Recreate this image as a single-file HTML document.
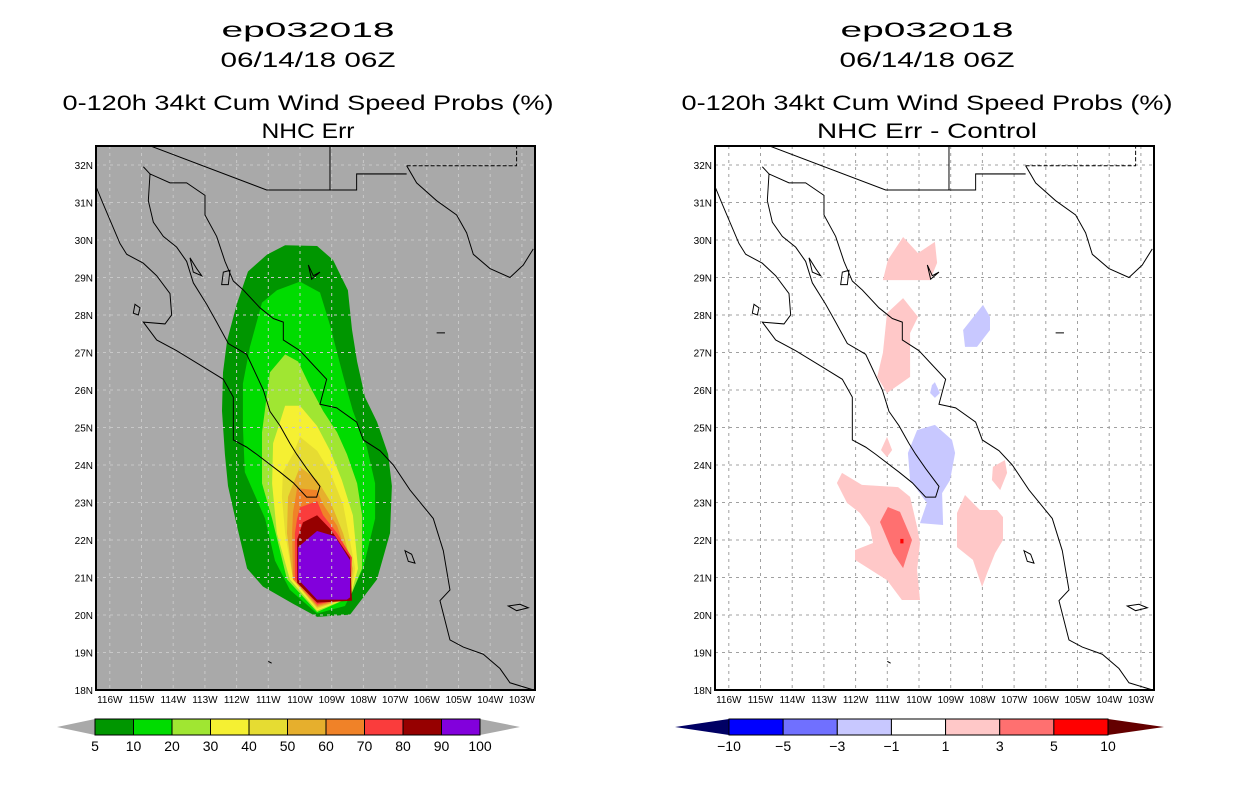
<!DOCTYPE html>
<html><head><meta charset="utf-8">
<style>
html,body{margin:0;padding:0;background:#fff;}
svg{display:block;font-family:"Liberation Sans",sans-serif;}
</style></head>
<body>
<svg id="chart" width="1236" height="800" viewBox="0 0 1236 800" xmlns="http://www.w3.org/2000/svg">
<g font-size="21" text-anchor="middle" fill="#000">
<text x="308" y="37" textLength="173" lengthAdjust="spacingAndGlyphs">ep032018</text>
<text x="308" y="67" textLength="175" lengthAdjust="spacingAndGlyphs">06/14/18 06Z</text>
<text x="308" y="110" textLength="491" lengthAdjust="spacingAndGlyphs">0-120h 34kt Cum Wind Speed Probs (%)</text>
<text x="308" y="138" textLength="93" lengthAdjust="spacingAndGlyphs">NHC Err</text>
</g>
<g font-size="21" text-anchor="middle" fill="#000">
<text x="927" y="37" textLength="173" lengthAdjust="spacingAndGlyphs">ep032018</text>
<text x="927" y="67" textLength="175" lengthAdjust="spacingAndGlyphs">06/14/18 06Z</text>
<text x="927" y="110" textLength="491" lengthAdjust="spacingAndGlyphs">0-120h 34kt Cum Wind Speed Probs (%)</text>
<text x="927" y="138" textLength="220" lengthAdjust="spacingAndGlyphs">NHC Err - Control</text>
</g>
<defs>
<clipPath id="clipL"><rect x="96" y="146" width="439" height="544"/></clipPath>
<clipPath id="clipR"><rect x="715" y="146" width="439" height="544"/></clipPath>
<g id="coast">
<path fill="none" stroke="#000" stroke-width="2.9" d="M185,18 L530,140 L720,140 L720,18 M720,140 L800,140 L800,95 L950,95
M20,135 L40,180 L65,235 L90,290 L110,320 L160,345 L200,380 L240,430 L245,490 L225,515 L160,510 L200,560 L260,590 L330,630 L400,670 L430,720 L430,800 L430,840 L470,860 L500,880 L570,930 L610,960 L650,1000 L680,1000 L690,970 L650,920 L620,880 L600,850 L570,800 L540,760 L520,700 L490,640 L470,600 L415,570 L380,510 L350,460 L310,400 L290,340 L260,300 L220,270 L190,230 L175,170 L180,95 L160,75
M180,95 L240,120 L290,120 L345,155 L345,210 L380,270 L405,340 L430,395 L460,420 L510,470 L550,500 L580,510 L580,560 L630,590 L670,630 L710,670 L690,740 L740,750 L800,790 L820,840 L870,870 L910,910 L960,980 L1030,1060 L1060,1150 L1080,1260 L1050,1290 L1080,1400 L1120,1420 L1180,1440 L1230,1480 L1260,1520 L1330,1540
M950,72 L980,120 L1040,170 L1100,210 L1130,260 L1150,320 L1200,360 L1260,385 L1300,350 L1330,305
M300,330 L320,360 L335,380 L310,370 Z M400,370 L420,365 L415,405 L395,405 Z M135,460 L150,470 L145,490 L130,485 Z M655,350 L670,380 L690,370 L665,390 Z
M945,1150 L965,1160 L975,1185 L955,1180 Z M1255,1305 L1290,1300 L1315,1310 L1280,1318 Z M1040,540 L1065,540 M535,1460 L545,1465"/>
<path fill="none" stroke="#000" stroke-width="2.9" stroke-dasharray="12,6" d="M950,72 L1280,72 L1280,18"/>
</g>
</defs>
<rect x="96" y="146" width="439" height="544" fill="#a9a9a9"/>
<g id="leftContours" clip-path="url(#clipL)"></g>
<g id="leftGrid" clip-path="url(#clipL)"></g>
<g clip-path="url(#clipL)"><use href="#coast" transform="translate(90,140) scale(0.3333,0.3571)"/></g>
<rect x="96" y="146" width="439" height="544" fill="none" stroke="#000" stroke-width="2"/>
<rect x="715" y="146" width="439" height="544" fill="#fff"/>
<g id="rightGrid" clip-path="url(#clipR)"></g>
<g id="rightContours" clip-path="url(#clipR)"></g>
<g clip-path="url(#clipR)"><use href="#coast" transform="translate(709,140) scale(0.3333,0.3571)"/></g>
<rect x="715" y="146" width="439" height="544" fill="none" stroke="#000" stroke-width="2"/>
<g id="axes" font-size="10" fill="#000"></g>
<g id="cbars"></g>
</svg>
<script>
const NS='http://www.w3.org/2000/svg';
const latTicks=[32,31,30,29,28,27,26,25,24,23,22,21,20,19,18];
const lonTicks=[116,115,114,113,112,111,110,109,108,107,106,105,104,103];
const probLevels=[5,10,20,30,40,50,60,70,80,90,100];
const probColors=['#009600','#00dc00','#a0e632','#f5f032','#e6dc32','#e6af2d','#f08228','#fa3c3c','#960000','#8200dc'];
const diffLevels=[-10,-5,-3,-1,1,3,5,10];
const diffColors=['#0000ff','#7070ff','#c8c8ff','#ffffff','#ffc8c8','#ff7070','#ff0000'];
// probability contours, lon/lat, outermost first
const prob5=[[-110.47,29.86],[-109.46,29.84],[-108.96,29.47],[-108.49,28.66],[-108.36,27.61],[-108.20,26.76],[-107.95,25.81],[-107.57,25.15],[-107.22,24.29],[-107.10,23.44],[-107.16,22.18],[-107.57,20.95],[-108.42,20.01],[-109.46,19.95],[-110.22,20.30],[-111.17,20.76],[-111.67,21.24],[-111.99,22.38],[-112.27,23.44],[-112.37,24.29],[-112.46,25.44],[-112.43,26.47],[-112.30,27.32],[-111.99,28.30],[-111.64,29.16],[-111.04,29.61]];
const prob10=[[-110.00,28.89],[-109.37,28.60],[-109.05,27.72],[-108.64,26.38],[-108.33,25.44],[-107.89,24.47],[-107.63,23.51],[-107.63,22.57],[-108.01,21.24],[-108.58,20.24],[-109.46,20.04],[-110.32,20.67],[-110.79,21.45],[-111.10,22.57],[-111.74,23.81],[-111.80,25.04],[-111.80,26.17],[-111.58,27.15],[-111.20,28.33],[-110.73,28.66]];
const prob20=[[-110.47,26.95],[-110.06,26.76],[-109.68,26.09],[-109.27,25.44],[-108.83,24.87],[-108.52,24.29],[-108.20,23.51],[-108.04,22.66],[-108.04,21.24],[-108.42,20.47],[-109.46,20.08],[-110.41,20.95],[-110.88,22.57],[-111.20,23.51],[-111.20,24.87],[-110.95,26.47]];
const prob30=[[-110.47,25.58],[-110.00,25.58],[-109.46,25.04],[-109.05,24.38],[-108.68,23.60],[-108.33,22.66],[-108.17,21.24],[-108.42,20.47],[-109.46,20.12],[-110.32,20.95],[-110.73,22.18],[-110.88,23.51],[-110.85,24.58],[-110.63,25.15]];
const prob40=[[-110.00,24.75],[-109.46,24.38],[-109.05,23.81],[-108.64,22.95],[-108.26,21.24],[-108.42,20.47],[-109.46,20.16],[-110.22,20.95],[-110.47,22.18],[-110.57,23.15],[-110.54,23.81],[-110.22,24.29]];
const prob50=[[-110.00,23.95],[-109.46,23.60],[-109.05,23.04],[-108.64,22.18],[-108.33,21.24],[-108.42,20.47],[-109.46,20.20],[-110.22,20.95],[-110.41,22.18],[-110.38,23.15]];
const prob60=[[-110.09,23.38],[-109.46,23.33],[-109.27,22.95],[-108.83,22.38],[-108.49,21.53],[-108.42,20.47],[-109.46,20.24],[-110.22,20.95],[-110.25,22.18],[-110.22,22.74]];
const prob70=[[-110.00,22.87],[-109.46,23.04],[-109.27,22.66],[-108.83,22.18],[-108.36,21.53],[-108.42,20.47],[-109.46,20.28],[-110.16,20.95],[-110.16,22.18],[-110.09,22.57]];
const prob80=[[-109.91,22.47],[-109.46,22.66],[-109.05,22.30],[-108.42,21.53],[-108.36,20.38],[-109.46,20.33],[-110.09,20.86],[-110.09,22.01]];
const prob90=[[-109.46,22.24],[-108.90,22.10],[-108.42,21.46],[-108.42,20.47],[-108.52,20.41],[-109.46,20.41],[-110.06,20.95],[-110.06,21.81]];
// difference contours
const diffPink1=[[-111.14,28.93],[-110.98,29.47],[-110.50,30.08],[-110.03,29.65],[-109.50,29.95],[-109.43,29.39],[-109.65,28.93]];
const diffPink2=[[-111.01,28.05],[-110.50,28.45],[-110.03,27.95],[-110.28,27.52],[-110.28,26.35],[-111.01,25.92],[-111.32,26.35],[-111.14,26.99]];
const diffBlue1=[[-108.61,27.60],[-107.98,28.27],[-107.76,27.95],[-107.76,27.60],[-108.17,27.15],[-108.55,27.15]];
const diffBlue2=[[-109.59,26.13],[-109.50,26.21],[-109.34,25.92],[-109.50,25.79],[-109.65,25.92]];
const diffBlue3=[[-110.06,24.93],[-109.50,25.07],[-108.96,24.67],[-108.86,24.32],[-109.02,23.60],[-109.27,23.25],[-109.24,22.40],[-109.97,22.45],[-109.75,22.99],[-110.28,23.60],[-110.35,24.32]];
const diffPink3=[[-111.01,24.75],[-110.85,24.40],[-111.01,24.21],[-111.20,24.40]];
const diffPink4=[[-107.67,23.95],[-107.29,24.13],[-107.22,23.79],[-107.44,23.33],[-107.70,23.60]];
const diffPink5=[[-112.59,23.52],[-112.43,23.79],[-111.80,23.47],[-110.66,23.41],[-110.28,23.15],[-110.06,22.35],[-109.97,21.92],[-110.06,21.20],[-109.97,20.40],[-110.54,20.40],[-111.01,20.93],[-112.02,21.47],[-112.02,21.73],[-111.45,21.92],[-111.55,22.35],[-111.86,22.72],[-112.27,22.99]];
const diffRed1=[[-111.23,22.48],[-110.98,22.88],[-110.60,22.75],[-110.22,22.00],[-110.50,21.25],[-110.82,21.65]];
const diffRed2=[[-110.59,22.03],[-110.49,22.03],[-110.49,21.91],[-110.59,21.91]];
const diffPink6=[[-108.80,22.72],[-108.55,23.20],[-108.08,22.80],[-107.54,22.80],[-107.35,22.61],[-107.35,22.00],[-107.60,21.65],[-107.85,21.12],[-108.01,20.75],[-108.30,21.47],[-108.80,21.81]];

function xL(lon){return 300+(lon+110)*31.7;}
function yL(lat){return 690-(lat-18)*37.5;}
function pts(poly,off){return poly.map(p=>(xL(p[0])+off).toFixed(1)+','+yL(p[1]).toFixed(1)).join(' ');}
function poly(g,p,fill,off,name){
  const e=document.createElementNS(NS,'polygon');
  e.setAttribute('points',pts(p,off));e.setAttribute('fill',fill);
  
  
  g.appendChild(e);
}
const lc=document.getElementById('leftContours');
[prob5,prob10,prob20,prob30,prob40,prob50,prob60,prob70,prob80,prob90].forEach((p,i)=>poly(lc,p,probColors[i],0,'prob-contour-'+probLevels[i]));
const rc=document.getElementById('rightContours');
[[4,diffPink1],[4,diffPink2],[2,diffBlue1],[2,diffBlue2],[2,diffBlue3],[4,diffPink3],[4,diffPink4],[4,diffPink5],[5,diffRed1],[6,diffRed2],[4,diffPink6]].forEach((d,i)=>poly(rc,d[1],diffColors[d[0]],619,'diff-contour-'+i));
function grid(id,off,col){
  const g=document.getElementById(id);
  lonTicks.forEach(l=>{const x=xL(-l)+off;const e=document.createElementNS(NS,'line');
    e.setAttribute('x1',x);e.setAttribute('x2',x);e.setAttribute('y1',146);e.setAttribute('y2',690);
    e.setAttribute('stroke',col);e.setAttribute('stroke-dasharray','3,4');
    
    g.appendChild(e);});
  latTicks.forEach(l=>{const y=yL(l);const e=document.createElementNS(NS,'line');
    e.setAttribute('x1',96+off);e.setAttribute('x2',535+off);e.setAttribute('y1',y);e.setAttribute('y2',y);
    e.setAttribute('stroke',col);e.setAttribute('stroke-dasharray','3,4');
    
    g.appendChild(e);});
}
grid('leftGrid',0,'#c8c8c8');grid('rightGrid',619,'#a0a0a0');
const ax=document.getElementById('axes');
function txt(g,x,y,s,anchor,name,size){const t=document.createElementNS(NS,'text');
  t.setAttribute('x',x);t.setAttribute('y',y);t.setAttribute('text-anchor',anchor);
  if(size)t.setAttribute('font-size',size);
  t.textContent=s;
  
  g.appendChild(t);}
[0,619].forEach(off=>{
  latTicks.forEach(l=>txt(ax,93+off,yL(l)+4,l+'N','end','lat-label'));
  lonTicks.forEach(l=>txt(ax,xL(-l)+off,703,l+'W','middle','lon-label'));
});
const cb=document.getElementById('cbars');
function cbar(x0,x1,tipL,tipR,colors,labels,lcol,rcol,name){
  const g=document.createElementNS(NS,'g');
  
  
  cb.appendChild(g);
  const y0=719,y1=735,w=(x1-x0)/colors.length;
  const a=document.createElementNS(NS,'polygon');a.setAttribute('points',`${tipL},727 ${x0},${y0} ${x0},${y1}`);a.setAttribute('fill',lcol);
  
  g.appendChild(a);
  const b=document.createElementNS(NS,'polygon');b.setAttribute('points',`${tipR},727 ${x1},${y0} ${x1},${y1}`);b.setAttribute('fill',rcol);
  
  g.appendChild(b);
  colors.forEach((c,i)=>{const r=document.createElementNS(NS,'rect');
    r.setAttribute('x',x0+i*w);r.setAttribute('y',y0);r.setAttribute('width',w);r.setAttribute('height',y1-y0);
    r.setAttribute('fill',c);r.setAttribute('stroke','#000');r.setAttribute('stroke-width','1');
    
    g.appendChild(r);});
  labels.forEach((s,i)=>txt(g,x0+i*w,751,String(s).replace('-','\u2212'),'middle','colorbar-label',14));
}
cbar(95,480,57,520,probColors,probLevels,'#a9a9a9','#a9a9a9','left-colorbar');
cbar(729,1108,675,1164,diffColors,diffLevels,'#000064','#640000','right-colorbar');
</script>
</body></html>
